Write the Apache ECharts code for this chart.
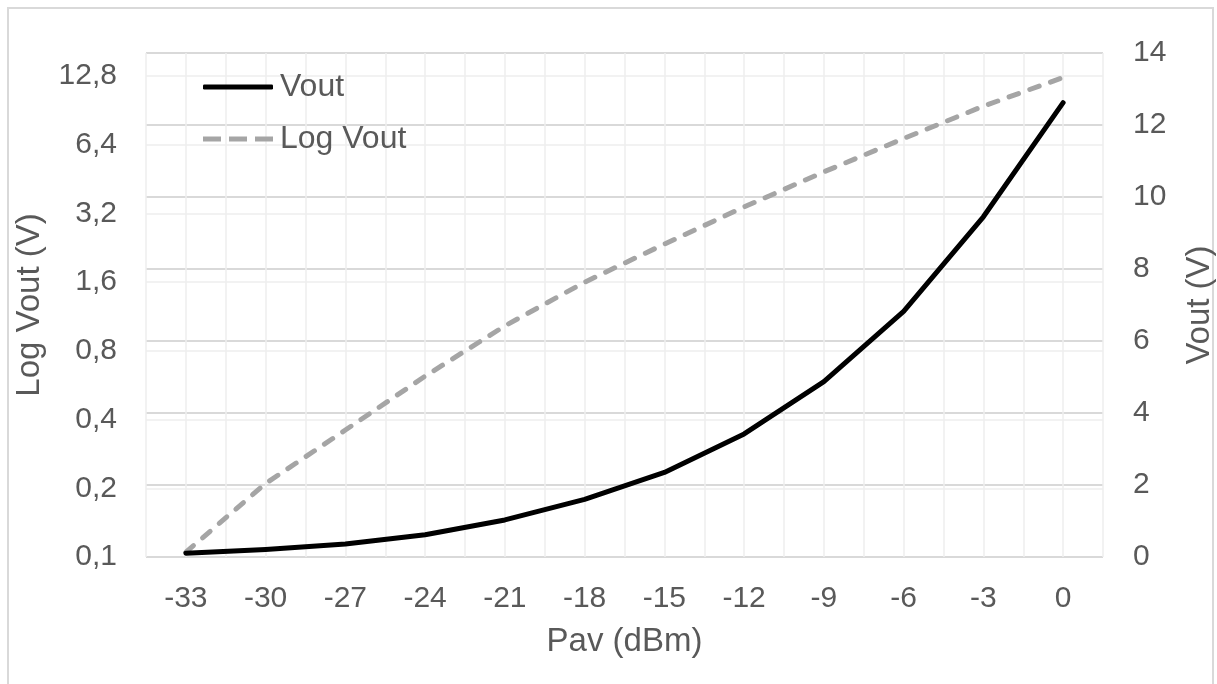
<!DOCTYPE html>
<html>
<head>
<meta charset="utf-8">
<title>Vout vs Pav</title>
<script src="https://cdn.jsdelivr.net/npm/echarts@6/dist/echarts.min.js"></script>
<style>
  html, body { margin: 0; padding: 0; background: #ffffff; }
  #frame {
    position: absolute; left: 7px; top: 7px; width: 1207px; height: 700px;
    border: 2px solid #d9d9d9; border-bottom: none; box-sizing: border-box;
  }
  #chart { position: absolute; left: 0; top: 0; width: 1217px; height: 684px; }
</style>
</head>
<body>
<div id="frame"></div>
<div id="chart"></div>
<script>
// Input power (dBm) and measured output voltage (V)
const pav = [-33, -30, -27, -24, -21, -18, -15, -12, -9, -6, -3, 0];
const vout = [0.105, 0.21, 0.36, 0.62, 1.03, 1.6, 2.35, 3.42, 4.87, 6.82, 9.45, 12.62];

// Tick values for the logarithmic (base 2) axis and the linear axis
const logTicks = [0.1, 0.2, 0.4, 0.8, 1.6, 3.2, 6.4, 12.8];
const linTicks = [0, 2, 4, 6, 8, 10, 12, 14];
// upper end of the log axis (it runs a little past its last labelled tick)
const logAxisTop = 16.16;

const FONT = "'Liberation Sans', Arial, sans-serif";
const TEXT = '#595959';

const pairs = pav.map((p, i) => [p, vout[i]]);
const fmtComma = v => String(v).replace('.', ',');
const log2Span = Math.log2(logAxisTop / logTicks[0]);

const chart = echarts.init(document.getElementById('chart'), null, { renderer: 'canvas' });

chart.setOption({
  animation: false,
  textStyle: { fontFamily: FONT },
  grid: {
    left: 146, right: 114, top: 53, bottom: 127,
    containLabel: false, outerBoundsMode: 'none'
  },
  legend: {
    orient: 'vertical',
    left: 203, top: 71,
    padding: 0,
    itemGap: 20,
    itemWidth: 70,
    itemHeight: 5,
    data: [
      { name: 'Vout', icon: 'roundRect' },
      { name: 'Log Vout', icon: 'path://M0,0h18v5h-18z M26,0h18v5h-18z M52,0h18v5h-18z' }
    ],
    textStyle: { fontSize: 32, color: TEXT, fontFamily: FONT, padding: [0, 0, 0, 2] }
  },
  xAxis: {
    type: 'value',
    min: -34.5, max: 1.5, interval: 1.5,
    name: 'Pav (dBm)', nameLocation: 'middle', nameGap: 68,
    nameTextStyle: { fontSize: 33, color: TEXT, fontFamily: FONT },
    axisLine: { show: false },
    axisTick: { show: false },
    axisLabel: {
      fontSize: 30, color: TEXT, margin: 27, fontFamily: FONT,
      formatter: v => (pav.indexOf(v) >= 0 ? String(v) : '')
    },
    splitLine: { show: true, lineStyle: { color: '#eeeeee', width: 1.5 } }
  },
  yAxis: [
    {
      // visible labels and grid for the base-2 scale
      type: 'value', position: 'left',
      min: 0, max: log2Span, interval: 1,
      name: 'Log Vout (V)', nameLocation: 'middle', nameGap: 100, nameRotate: 90,
      nameTextStyle: { fontSize: 33, color: TEXT, fontFamily: FONT },
      axisLine: { show: false },
      axisTick: { show: false },
      axisLabel: {
        fontSize: 30, color: TEXT, margin: 29, fontFamily: FONT,
        showMaxLabel: false,
        formatter: (v) => (Number.isInteger(v) && v < logTicks.length ? fmtComma(logTicks[v]) : '')
      },
      splitLine: { show: true, lineStyle: { color: '#eeeeee', width: 1.5 } }
    },
    {
      // base-2 logarithmic scale that positions the Log Vout series
      type: 'log', logBase: 2, position: 'left',
      min: logTicks[0], max: logAxisTop,
      show: false,
      splitLine: { show: false }
    },
    {
      type: 'value', position: 'right',
      min: linTicks[0], max: linTicks[linTicks.length - 1], interval: 2,
      name: 'Vout (V)', nameLocation: 'middle', nameGap: 80, nameRotate: 90,
      nameTextStyle: { fontSize: 33, color: TEXT, fontFamily: FONT },
      axisLine: { show: false },
      axisTick: { show: false },
      axisLabel: { fontSize: 30, color: TEXT, margin: 30, fontFamily: FONT },
      splitLine: { show: true, lineStyle: { color: '#d9d9d9', width: 2 } }
    }
  ],
  series: [
    {
      name: 'Vout',
      type: 'line',
      yAxisIndex: 2,
      data: pairs,
      showSymbol: false,
      symbol: 'none',
      z: 4,
      itemStyle: { color: '#000000' },
      lineStyle: { color: '#000000', width: 5, cap: 'round', join: 'round' }
    },
    {
      name: 'Log Vout',
      type: 'line',
      yAxisIndex: 1,
      data: pairs,
      showSymbol: false,
      symbol: 'none',
      z: 3,
      itemStyle: { color: '#a5a5a5' },
      lineStyle: { color: '#a5a5a5', width: 5, type: [10, 12], cap: 'round', join: 'round' }
    }
  ]
});
</script>
</body>
</html>
